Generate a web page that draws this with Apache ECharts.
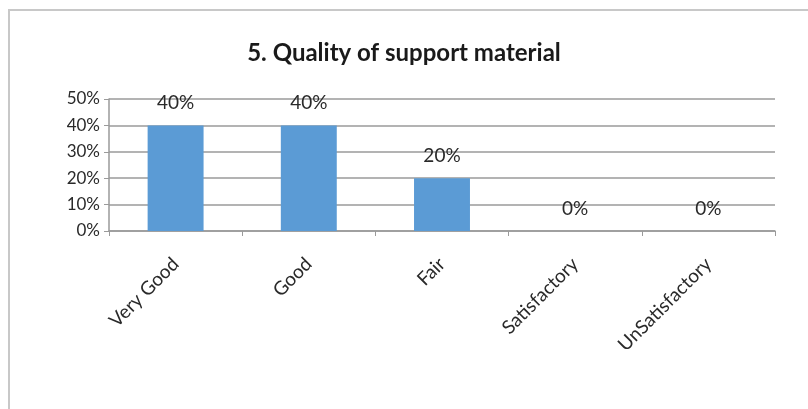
<!DOCTYPE html>
<html>
<head>
<meta charset="utf-8">
<script src="https://cdn.jsdelivr.net/npm/echarts@6/dist/echarts.min.js"></script>
<style>
  html, body { margin: 0; padding: 0; background: #fff; }
  #frame { position: absolute; left: 8px; top: 9px; width: 820px; height: 420px;
           border-top: 2px solid #c8c8c8; border-left: 2px solid #c8c8c8; }
  #chart { position: absolute; left: 0; top: 0; width: 808px; height: 409px; }
</style>
</head>
<body>
<div id="frame"></div>
<div id="chart"></div>
<script>
const categories = ["Very Good", "Good", "Fair", "Satisfactory", "UnSatisfactory"];
const values = [40, 40, 20, 0, 0];
const titleText = "5. Quality of support material";

const chart = echarts.init(document.getElementById("chart"));
const fontFam = "Lato, 'Open Sans', sans-serif";

chart.setOption({
    animation: false,
    title: {
        text: titleText,
        left: "center",
        top: 36,
        textStyle: { fontFamily: fontFam, fontSize: 24, fontWeight: "bold", color: "#1a1a1a" }
    },
    grid: { left: 109, right: 33, top: 99, bottom: 178 },
    xAxis: {
        type: "category",
        data: categories,
        axisLine: { lineStyle: { color: "#9a9a9a", width: 1.5 } },
        axisTick: { show: true, length: 5, lineStyle: { color: "#9a9a9a" } },
        axisLabel: { rotate: 45, fontFamily: fontFam, fontSize: 19, color: "#2a2a2a", margin: 30 }
    },
    yAxis: {
        type: "value",
        min: 0,
        max: 50,
        interval: 10,
        axisLine: { show: true, lineStyle: { color: "#9a9a9a", width: 1.5 } },
        axisTick: { show: true, length: 5, inside: false, lineStyle: { color: "#9a9a9a" } },
        splitLine: { lineStyle: { color: "#9a9a9a", width: 1.5 } },
        axisLabel: { formatter: "{value}%", fontFamily: fontFam, fontSize: 17, color: "#2a2a2a", margin: 9 }
    },
    series: [{
        type: "bar",
        data: values,
        barWidth: "42%",
        itemStyle: { color: "#5b9bd5" },
        label: {
            show: true,
            position: "top",
            distance: 13,
            formatter: "{c}%",
            fontFamily: fontFam,
            fontSize: 19,
            color: "#2a2a2a"
        }
    }]
});
</script>
</body>
</html>
